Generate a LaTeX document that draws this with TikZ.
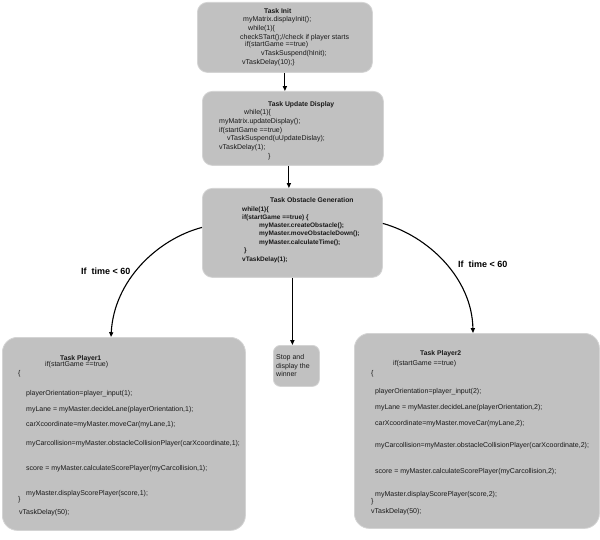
\documentclass[tikz,border=0pt]{standalone}
\usepackage{fontspec}
\setmainfont{Liberation Sans}
\usetikzlibrary{arrows.meta}
\definecolor{boxgray}{RGB}{193,193,193}
\definecolor{boxedge}{RGB}{212,212,212}
\definecolor{txtcol}{RGB}{25,25,25}
\newcommand\codeln[5][codetxt]{\node[#1] (#2) at (#3,#4+2.5) {#5};}
\tikzset{
  box/.style={fill=boxgray, draw=boxedge, line width=0.8pt, rounded corners=10pt, inner sep=0pt, anchor=north west},
  codetxt/.style={anchor=base west, inner sep=0pt, text=txtcol, font=\fontsize{7}{8}\selectfont},
  codebold/.style={codetxt, font=\fontsize{6.5}{8}\selectfont\bfseries},
  titletxt/.style={codetxt, font=\fontsize{6.8}{8}\selectfont\bfseries},
  condtxt/.style={anchor=west, inner sep=0pt, font=\fontsize{9}{10}\selectfont\bfseries},
  arr/.style={-{Triangle[length=4.8pt,width=4pt]}, line width=1.1pt},
}
\begin{document}
\begin{tikzpicture}[x=1pt,y=-1pt]
\useasboundingbox (0,0) rectangle (600,540);
% boxes
\node[box, minimum width=175pt, minimum height=70pt] (b1) at (197,2) {};
\node[box, minimum width=181pt, minimum height=74pt] (b2) at (202,91) {};
\node[box, minimum width=180pt, minimum height=89pt] (b3) at (202,188) {};
\node[box, minimum width=243pt, minimum height=193pt, rounded corners=15pt] (p1) at (2,337) {};
\node[box, minimum width=245pt, minimum height=195pt, rounded corners=15pt] (p2) at (354,333) {};
\node[box, minimum width=46pt, minimum height=41pt, rounded corners=7pt] (stop) at (273,345) {};
% Task Init
\codeln[titletxt]{a0}{264}{10.7}{Task Init}
\codeln{a1}{243}{19}{myMatrix.displayInit();}
\codeln{a2}{248}{27.7}{while(1)\{}
\codeln{a3}{240}{36.7}{checkSTart();//check if player starts}
\codeln{a4}{245}{44.3}{if(startGame ==true)}
\codeln{a5}{261}{53.3}{vTaskSuspend(hInit);}
\codeln{a6}{242}{62.3}{vTaskDelay(10);\}}
% Task Update Display
\codeln[titletxt]{c0}{268}{103.7}{Task Update Display}
\codeln{c1}{244}{112}{while(1)\{}
\codeln{c2}{219}{120.7}{myMatrix.updateDisplay();}
\codeln{c3}{219}{129.7}{if(startGame ==true)}
\codeln{c4}{227}{138}{vTaskSuspend(uUpdateDislay);}
\codeln{c5}{219}{147}{vTaskDelay(1);}
\codeln{c6}{268}{155.7}{\}}
% Task Obstacle Generation
\codeln[titletxt]{d0}{270}{200}{Task Obstacle Generation}
\codeln[codebold]{d1}{242}{209.3}{while(1)\{}
\codeln[codebold]{d2}{242}{216.7}{if(startGame ==true) \{}
\codeln[codebold]{d3}{259}{225}{myMaster.createObstacle();}
\codeln[codebold]{d4}{259}{233.3}{myMaster.moveObstacleDown();}
\codeln[codebold]{d5}{259}{241.7}{myMaster.calculateTime();}
\codeln[codebold]{d6}{244}{250}{\}}
\codeln[codebold]{d7}{242}{259}{vTaskDelay(1);}
% Player 1
\codeln[titletxt]{e0}{60}{358.3}{Task Player1}
\codeln{e1}{45}{364}{if(startGame ==true)}
\codeln{e2}{18}{373}{\{}
\codeln{e3}{26}{393.3}{playerOrientation=player\_input(1);}
\codeln{e4}{26}{409.3}{myLane = myMaster.decideLane(playerOrientation,1);}
\codeln{e5}{26}{424.3}{carXcoordinate=myMaster.moveCar(myLane,1);}
\codeln{e6}{26}{443.3}{myCarcollision=myMaster.obstacleCollisionPlayer(carXcoordinate,1);}
\codeln{e7}{26}{467.7}{score = myMaster.calculateScorePlayer(myCarcollision,1);}
\codeln{e8}{26}{493.3}{myMaster.displayScorePlayer(score,1);}
\codeln{e9}{18}{499.3}{\}}
\codeln{e10}{19}{511.7}{vTaskDelay(50);}
% Player 2
\codeln[titletxt]{f0}{420}{353.3}{Task Player2}
\codeln{f1}{393}{362.7}{if(startGame ==true)}
\codeln{f2}{371}{372.7}{\{}
\codeln{f3}{375}{391}{playerOrientation=player\_input(2);}
\codeln{f4}{375}{406.7}{myLane = myMaster.decideLane(playerOrientation,2);}
\codeln{f5}{375}{422.7}{carXcoordinate=myMaster.moveCar(myLane,2);}
\codeln{f6}{375}{445}{myCarcollision=myMaster.obstacleCollisionPlayer(carXcoordinate,2);}
\codeln{f7}{375}{470.7}{score = myMaster.calculateScorePlayer(myCarcollision,2);}
\codeln{f8}{375}{494}{myMaster.displayScorePlayer(score,2);}
\codeln{f9}{371}{500.7}{\}}
\codeln{f10}{371}{511}{vTaskDelay(50);}
% Stop box
\codeln{g1}{276}{357}{Stop and}
\codeln{g2}{276}{366}{display the}
\codeln{g3}{276}{374.3}{winner}
% conditions
\node[condtxt] (lc) at (81,271) {If~~time < 60};
\node[condtxt] (rc) at (458,264) {If~~time < 60};
% connectors
\draw[arr] (b1.south) -- (b1.south |- b2.north);
\draw[arr] ([xshift=-4pt]b2.south) -- ([xshift=-4pt]b2.south |- b3.north);
\draw[arr] (b3.south) -- (b3.south |- stop.north);
\draw[arr] ([yshift=5.5pt]b3.west) .. controls (158,239) and (114,280) .. (p1.north -| 111,0);
\draw[arr] ([yshift=9.5pt]b3.east) .. controls (428,236) and (472,278) .. (p2.north -| 473,0);
\end{tikzpicture}
\end{document}
